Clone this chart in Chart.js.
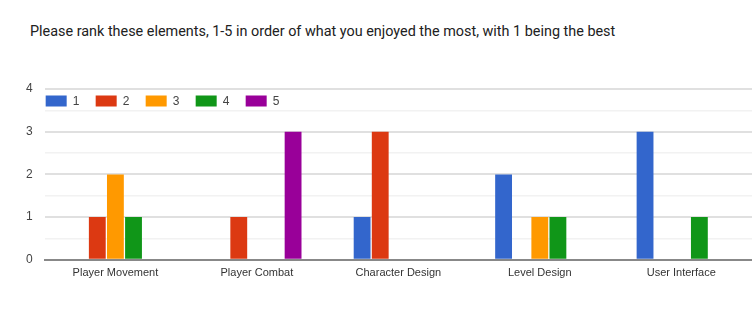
<!DOCTYPE html>
<html>
<head>
<meta charset="utf-8">
<script src="https://cdn.jsdelivr.net/npm/chart.js@4.4.1/dist/chart.umd.min.js"></script>
<style>
  html, body { margin: 0; padding: 0; background: #fff; }
  #wrap { position: relative; width: 752px; height: 327px; }
  #titulo {
    position: absolute; left: 30px; top: 23px;
    font-family: Roboto, sans-serif; font-size: 14.4px; color: #212121;
    white-space: nowrap;
  }
  canvas { position: absolute; left: 0; top: 0; }
</style>
</head>
<body>
<div id="wrap">
  <div id="titulo">Please rank these elements, 1-5 in order of what you enjoyed the most, with 1 being the best</div>
  <canvas id="grafico" width="752" height="327"></canvas>
</div>
<script>
// dados
const categorias = ['Player Movement', 'Player Combat', 'Character Design', 'Level Design', 'User Interface'];
const rank1 = [0, 0, 1, 2, 3];
const rank2 = [1, 1, 3, 0, 0];
const rank3 = [2, 0, 0, 1, 0];
const rank4 = [1, 0, 0, 1, 1];
const rank5 = [0, 3, 0, 0, 0];
const rotulosSeries = ['1', '2', '3', '4', '5'];
const cores = ['#3366cc', '#dc3912', '#ff9900', '#109618', '#990099'];
const valoresY = [0, 1, 2, 3, 4];

const series = [rank1, rank2, rank3, rank4, rank5];
const fonteEixo = 'Liberation Sans, Arial, sans-serif';

// legenda desenhada dentro da area do grafico, como no Google Forms
const legendaInterna = {
  id: 'legendaInterna',
  afterDraw(chart) {
    const ctx = chart.ctx;
    const x0 = chart.chartArea.left + 1;
    const yc = 100.5;
    ctx.save();
    ctx.font = '12px ' + fonteEixo;
    ctx.textBaseline = 'middle';
    chart.data.datasets.forEach((ds, i) => {
      const x = x0 + i * 50;
      ctx.fillStyle = ds.backgroundColor;
      ctx.fillRect(x, yc - 5, 21, 11);
      ctx.fillStyle = '#444';
      ctx.fillText(ds.label, x + 27, yc + 1);
    });
    ctx.restore();
  }
};

const ctx = document.getElementById('grafico').getContext('2d');
new Chart(ctx, {
  type: 'bar',
  data: {
    labels: categorias,
    datasets: series.map((valores, i) => ({
      label: rotulosSeries[i],
      data: valores,
      backgroundColor: cores[i],
      borderWidth: 0,
      barPercentage: 0.93,
      categoryPercentage: 0.64
    }))
  },
  options: {
    responsive: false,
    animation: false,
    layout: { padding: { top: 89, right: 0, bottom: 40, left: 14 } },
    plugins: {
      legend: { display: false },
      tooltip: { enabled: false }
    },
    scales: {
      x: {
        grid: { display: false, drawTicks: false },
        border: { color: '#888', width: 2 },
        ticks: { font: { family: fonteEixo, size: 11 }, color: '#333', padding: 7 }
      },
      y: {
        min: 0,
        max: 4,
        afterBuildTicks(scale) {
          const t = [];
          for (let v = 0; v <= 4; v += 0.5) t.push({ value: v });
          scale.ticks = t;
        },
        grid: {
          drawTicks: false,
          color: c => (c.tick && Number.isInteger(c.tick.value)) ? '#e0e0e0' : '#f2f2f2',
          lineWidth: c => (c.tick && Number.isInteger(c.tick.value)) ? 2 : 1.5
        },
        border: { display: false },
        ticks: {
          font: { family: fonteEixo, size: 12 },
          color: '#444',
          padding: 12,
          callback: v => valoresY.includes(v) ? String(v) : ''
        }
      }
    }
  },
  plugins: [legendaInterna]
});
</script>
</body>
</html>
